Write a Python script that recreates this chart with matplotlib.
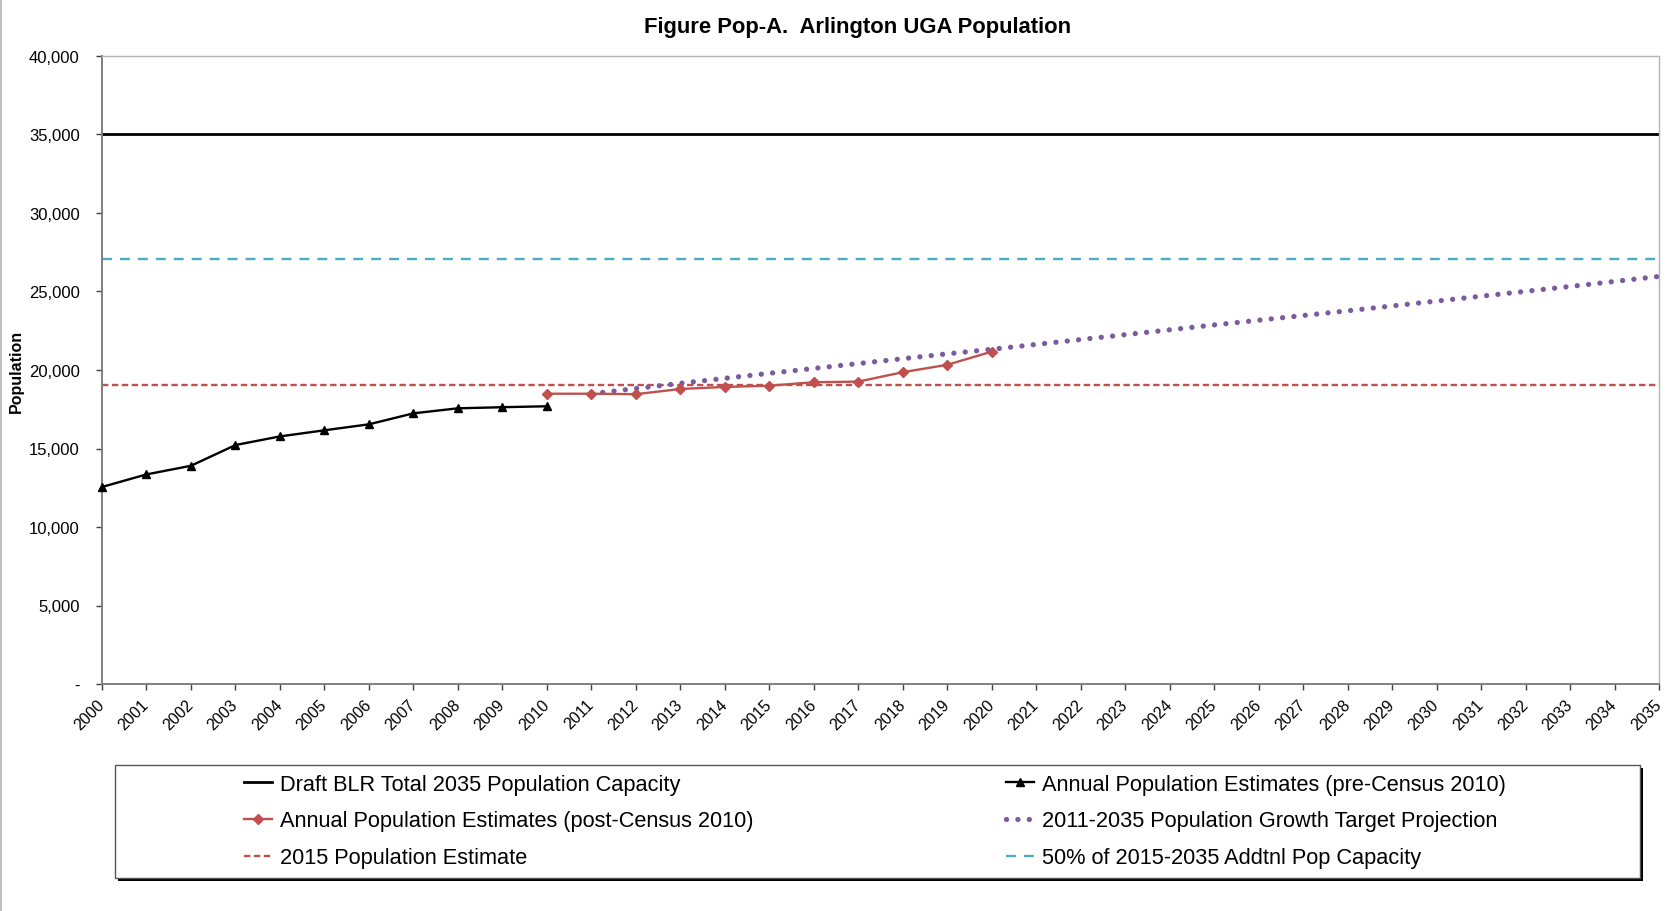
import matplotlib
matplotlib.use("Agg")
import matplotlib.pyplot as plt
from matplotlib.lines import Line2D
from matplotlib.patches import Rectangle

plt.rcParams['font.family'] = ['Liberation Sans', 'DejaVu Sans']

# ---------------- data ----------------
years_pre = [2000, 2001, 2002, 2003, 2004, 2005, 2006, 2007, 2008, 2009, 2010]
pop_pre = [12550, 13350, 13900, 15220, 15770, 16160, 16540, 17240, 17560, 17630, 17690]

years_post = [2010, 2011, 2012, 2013, 2014, 2015, 2016, 2017, 2018, 2019, 2020]
pop_post = [18490, 18490, 18460, 18790, 18920, 19000, 19220, 19260, 19860, 20330, 21170]

years_proj = list(range(2011, 2036))
pop_proj = [18490, 18820, 19150, 19470, 19790, 20100, 20410, 20720, 21030, 21320,
            21630, 21940, 22250, 22560, 22870, 23170, 23470, 23770, 24080, 24390,
            24700, 25010, 25320, 25640, 25960]

capacity_2035 = 35000
estimate_2015 = 19030
half_capacity = 27070

year_ticks = list(range(2000, 2036))
y_ticks = [0, 5000, 10000, 15000, 20000, 25000, 30000, 35000, 40000]
y_tick_labels = ['-', '5,000', '10,000', '15,000', '20,000', '25,000', '30,000', '35,000', '40,000']

title = 'Figure Pop-A.  Arlington UGA Population'
y_label = 'Population'
labels = {
    'cap': 'Draft BLR Total 2035 Population Capacity',
    'pre': 'Annual Population Estimates (pre-Census 2010)',
    'post': 'Annual Population Estimates (post-Census 2010)',
    'proj': '2011-2035 Population Growth Target Projection',
    'est': '2015 Population Estimate',
    'half': '50% of 2015-2035 Addtnl Pop Capacity',
}

# colours
c_black = '#000000'
c_red = '#C0504D'
c_purple = '#7A5C9E'
c_teal = '#4BACC6'

# ---------------- figure ----------------
W, H, DPI = 1680, 912, 100
fig = plt.figure(figsize=(W / DPI, H / DPI), dpi=DPI)
fig.patch.set_facecolor('white')

L, R, T, B = 102, 1659, 57, 685
ax = fig.add_axes([L / W, 1 - B / H, (R - L) / W, (B - T) / H])

h_cap = ax.axhline(capacity_2035, color=c_black, lw=2.0, zorder=2)
h_est = ax.axhline(estimate_2015, color=c_red, lw=1.7, ls=(0, (2.7, 1.5)), zorder=2)
h_half = ax.axhline(half_capacity, color=c_teal, lw=1.7, ls=(0, (4.2, 3.4)), zorder=2)
h_proj, = ax.plot(years_proj, pop_proj, color=c_purple, lw=3.8,
                  ls=(0, (0.01, 2.15)), dash_capstyle='round', zorder=3)
h_pre, = ax.plot(years_pre, pop_pre, color=c_black, lw=1.7, marker='^', ms=6,
                 zorder=4, clip_on=False)
h_post, = ax.plot(years_post, pop_post, color=c_red, lw=1.7, marker='D', ms=5.5,
                  zorder=4, clip_on=False)

ax.set_xlim(2000, 2035)
ax.set_ylim(0, 40000)
ax.set_xticks(year_ticks)
ax.set_xticklabels([str(y) for y in year_ticks], rotation=45, ha='right', va='center',
                   rotation_mode='anchor', fontsize=11.5)
ax.set_yticks(y_ticks)
ax.set_yticklabels(y_tick_labels, fontsize=12)
ax.tick_params(axis='x', direction='out', length=4, width=1, color='#404040', pad=9)
ax.tick_params(axis='y', direction='out', length=4, width=1, color='#404040', pad=12)

for side in ['left', 'bottom']:
    ax.spines[side].set_color('#7f7f7f')
    ax.spines[side].set_linewidth(1.4)
for side in ['top', 'right']:
    ax.spines[side].set_color('#b4b4b4')
    ax.spines[side].set_linewidth(1.0)

ax.set_ylabel(y_label, fontsize=11.5, fontweight='bold')
ax.yaxis.set_label_coords(-0.050, 0.5)

fig.text(858 / W, 1 - 27 / H, title, ha='center', va='center', fontsize=15.8, fontweight='bold')

# left border of chart area
fig.add_artist(Line2D([1 / W, 1 / W], [0, 1], transform=fig.transFigure, color='#b4b4b4', lw=1.2))

# ---------------- legend box ----------------
bx0, bx1, by0, by1 = 115, 1640, 766, 879
fig.add_artist(Rectangle(((bx0 + 3) / W, 1 - (by1 + 3) / H), (bx1 - bx0) / W, (by1 - by0) / H,
                         transform=fig.transFigure, facecolor='black', edgecolor='black', lw=0, zorder=1))
fig.add_artist(Rectangle((bx0 / W, 1 - by1 / H), (bx1 - bx0) / W, (by1 - by0) / H,
                         transform=fig.transFigure, facecolor='white', edgecolor='#555555', lw=1.0, zorder=2))

leg_kw = dict(frameon=False, fontsize=15.7, handlelength=1.3, handletextpad=0.33,
              labelspacing=0.72, borderpad=0, borderaxespad=0, loc='center left')
leg1 = fig.legend([h_cap, h_post, h_est], [labels['cap'], labels['post'], labels['est']],
                  bbox_to_anchor=(244 / W, 1 - 822 / H), **leg_kw)
leg2 = fig.legend([h_pre, h_proj, h_half], [labels['pre'], labels['proj'], labels['half']],
                  bbox_to_anchor=(1006 / W, 1 - 822 / H), **leg_kw)
leg1.set_zorder(5)
leg2.set_zorder(5)

fig.savefig('out.png', dpi=DPI, facecolor='white')
